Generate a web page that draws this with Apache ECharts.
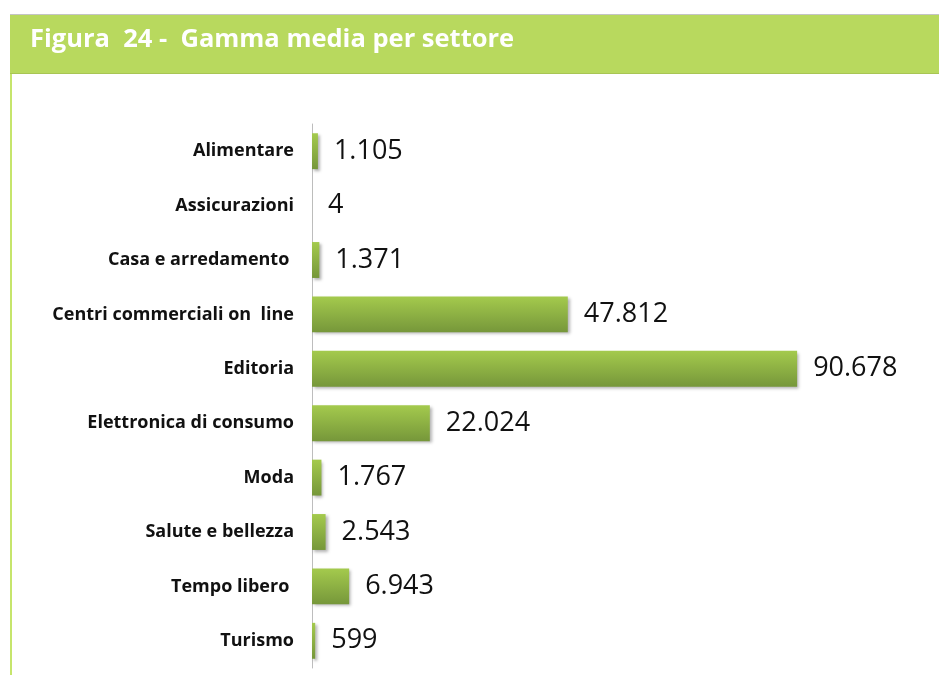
<!DOCTYPE html>
<html lang="it">
<head>
  <meta charset="UTF-8">
  <title>Gamma media per settore</title>
  <style>
    html, body { margin: 0; padding: 0; background: #fff; }
    #chart { width: 939px; height: 675px; }
  </style>
</head>
<body>
  <div id="chart"></div>
  <script src="https://cdn.jsdelivr.net/npm/echarts@6/dist/echarts.min.js"></script>
  <script>
    var settori = ['Alimentare', 'Assicurazioni', 'Casa e arredamento ', 'Centri commerciali on  line', 'Editoria',
      'Elettronica di consumo', 'Moda', 'Salute e bellezza', 'Tempo libero ', 'Turismo'];
    var gamma = [1105, 4, 1371, 47812, 90678, 22024, 1767, 2543, 6943, 599];
    var titolo = 'Figura  24 -  Gamma media per settore';

    // separatore delle migliaia col punto
    function fmt(v) {
      return String(v).replace(/\B(?=(\d{3})+(?!\d))/g, '.');
    }

    var chart = echarts.init(document.getElementById('chart'));

    var option = {
      animation: false,
      graphic: [
        { type: 'rect', shape: { x: 10, y: 14, width: 929, height: 60 }, style: { fill: '#b8d95e' }, z: 1 },
        { type: 'rect', shape: { x: 10, y: 14, width: 929, height: 1 }, style: { fill: '#c4c4c4' }, z: 2 },
        { type: 'rect', shape: { x: 10, y: 73, width: 929, height: 1 }, style: { fill: '#a8c554' }, z: 2 },
        { type: 'rect', shape: { x: 10, y: 74, width: 2, height: 601 }, style: { fill: '#c6e56c' }, z: 2 },
        {
          type: 'text', left: 30, top: 27, z: 3,
          style: { text: titolo, fill: '#ffffff', font: 'bold 25.5px "Open Sans", sans-serif' }
        }
      ],
      grid: { left: 312, right: 92, top: 124, bottom: 7 },
      xAxis: {
        type: 'value', min: 0, max: 100000, show: false
      },
      yAxis: {
        type: 'category',
        inverse: true,
        data: settori,
        axisLine: { lineStyle: { color: '#bdbdbd', width: 1 } },
        axisTick: { length: 5, lineStyle: { color: '#bdbdbd' } },
        axisLabel: {
          margin: 18,
          color: '#111',
          fontFamily: 'Open Sans',
          fontWeight: 'bold',
          fontSize: 18
        }
      },
      series: [{
        type: 'bar',
        data: gamma,
        barCategoryGap: '34%',
        itemStyle: {
          color: new echarts.graphic.LinearGradient(0, 0, 0, 1, [
            { offset: 0, color: '#a4ca4d' },
            { offset: 1, color: '#76973a' }
          ]),
          shadowColor: 'rgba(0,0,0,0.3)',
          shadowBlur: 3,
          shadowOffsetX: 2,
          shadowOffsetY: 2
        },
        label: {
          show: true,
          position: 'right',
          distance: 16,
          color: '#111',
          fontFamily: 'Open Sans',
          fontSize: 27,
          formatter: function (p) { return fmt(p.value); }
        }
      }]
    };

    chart.setOption(option);
  </script>
</body>
</html>
